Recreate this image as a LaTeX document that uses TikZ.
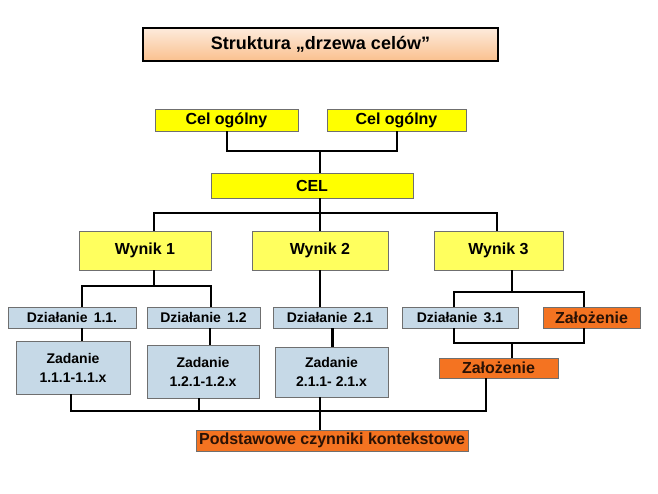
\documentclass[tikz,border=0pt]{standalone}
\usepackage{fontspec}
\setmainfont{Liberation Sans}
\definecolor{ylw}{HTML}{FFFF00}
\definecolor{ylwpale}{HTML}{FFFF5E}
\definecolor{bluegray}{HTML}{C6D9E7}
\definecolor{orng}{HTML}{F47321}
\definecolor{peachtop}{HTML}{FDEBDC}
\definecolor{peachbot}{HTML}{FAC08E}
\definecolor{bordergray}{HTML}{6F6F6F}
\definecolor{darktext}{HTML}{2A1205}
\begin{document}
\begin{tikzpicture}[x=1pt,y=-1pt,
  box/.style={draw=bordergray, line width=0.8pt, inner sep=0pt, outer sep=0pt, align=center, font=\bfseries\fontsize{16}{19}\selectfont},
  yelbox/.style={box, fill=ylw},
  wynbox/.style={box, fill=ylwpale},
  bluebox/.style={box, fill=bluegray, font=\bfseries\fontsize{14}{19}\selectfont},
  orbox/.style={box, fill=orng, text=darktext},
  conn/.style={line width=2pt, black}
]
\useasboundingbox (0,0) rectangle (658,493);
% title
\node[draw=black, line width=1.4pt, top color=peachtop, bottom color=peachbot, minimum width=355pt, minimum height=33pt, inner sep=0pt, font=\bfseries\fontsize{18}{21}\selectfont] (title) at (320.5,44.5) {Struktura „drzewa celów”};
% goals
\node[yelbox, minimum width=143pt, minimum height=22pt] (c1) at (226.5,120) {Cel ogólny};
\node[yelbox, minimum width=139pt, minimum height=22pt] (c2) at (396.5,120) {Cel ogólny};
\node[yelbox, minimum width=202pt, minimum height=25pt] (cel) at (312,185.5) {CEL};
% results
\node[wynbox, minimum width=132pt, minimum height=39pt] (w1) at (145,250.5) {Wynik 1};
\node[wynbox, minimum width=136pt, minimum height=39pt] (w2) at (320,250.5) {Wynik 2};
\node[wynbox, minimum width=129pt, minimum height=39pt] (w3) at (498.5,250.5) {Wynik 3};
% activities
\node[bluebox, minimum width=128pt, minimum height=21pt] (d11) at (72,317.5) {Działanie\, 1.1.};
\node[bluebox, minimum width=113pt, minimum height=21pt] (d12) at (203.5,317.5) {Działanie\, 1.2};
\node[bluebox, minimum width=114pt, minimum height=21pt] (d21) at (330,317.5) {Działanie\, 2.1};
\node[bluebox, minimum width=116pt, minimum height=21pt] (d31) at (460,317.5) {Działanie\, 3.1};
\node[orbox, minimum width=97pt, minimum height=21pt] (z1) at (591.5,317.5) {Założenie};
% tasks
\node[bluebox, minimum width=114pt, minimum height=53pt] (t11) at (73,367.5) {Zadanie\\1.1.1-1.1.x};
\node[bluebox, minimum width=112pt, minimum height=53pt] (t12) at (203,371.5) {Zadanie\\1.2.1-1.2.x};
\node[bluebox, minimum width=113pt, minimum height=50pt] (t21) at (331.5,372) {Zadanie\\2.1.1- 2.1.x};
\node[orbox, minimum width=119pt, minimum height=20pt] (z2) at (498.5,368) {Założenie};
% context
\node[orbox, minimum width=272pt, minimum height=21pt] (p) at (332,440.5) {Podstawowe czynniki kontekstowe};
% junctions
\coordinate (j1) at (320,151);
\coordinate (j2) at (320,213);
\coordinate (j3) at (154,286);
\coordinate (j4) at (512,292);
\coordinate (j5) at (512,343);
\coordinate (j6) at (320,411);
% connectors
\draw[conn] (c1.south) |- (j1) -| (c2.south);
\draw[conn] (j1) -- (j1 |- cel.north);
\draw[conn] (j2 |- cel.south) -- (j2);
\draw[conn] ([xshift=9pt]w1.north) |- (j2) -| ([xshift=-1.5pt]w3.north);
\draw[conn] (j2) -- (w2.north);
\draw[conn] ([xshift=9pt]w1.south) -- (j3);
\draw[conn] ([xshift=10pt]d11.north) |- (j3) -| ([xshift=7.5pt]d12.north);
\draw[conn] (w2.south) -- (w2.south |- d21.north);
\draw[conn] ([xshift=10pt]d11.south) -- ([xshift=9pt]t11.north);
\draw[conn] ([xshift=6.5pt]d12.south) -- ([xshift=7pt]t12.north);
\draw[line width=3pt] ([xshift=2pt]d21.south) -- ([xshift=0.5pt]t21.north);
\draw[conn] ([xshift=13.5pt]w3.south) -- (j4);
\draw[conn] ([xshift=-6pt]d31.north) |- (j4) -| ([xshift=-7.5pt]z1.north);
\draw[conn] ([xshift=-6pt]d31.south) |- (j5) -| ([xshift=-7.5pt]z1.south);
\draw[conn] (j5) -- ([xshift=13.5pt]z2.north);
\draw[conn] ([xshift=-2pt]t11.south) |- (j6) -| ([xshift=-12.5pt]z2.south);
\draw[conn] ([xshift=-4pt]t12.south) -- ([xshift=-4pt]t12.south |- j6);
\draw[conn] ([xshift=-11.5pt]t21.south) -- ([xshift=-12pt]p.north);
\end{tikzpicture}
\end{document}
